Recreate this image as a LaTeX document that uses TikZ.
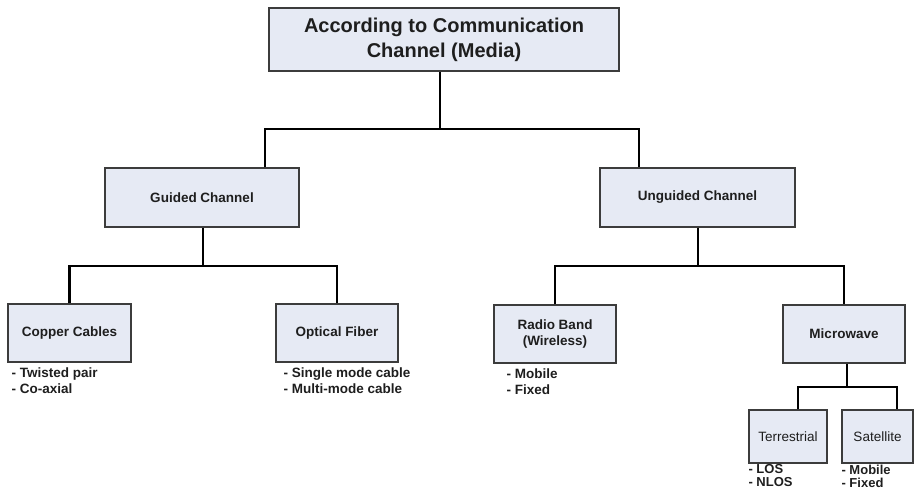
\documentclass[tikz,border=0pt]{standalone}
\usepackage{fontspec}
\setmainfont{Liberation Sans}
\definecolor{boxfill}{HTML}{E6EAF4}
\definecolor{boxline}{HTML}{3C3C3C}
\definecolor{ink}{HTML}{1E1E1E}
\begin{document}
\begin{tikzpicture}[x=1pt,y=-1pt,
  box/.style={draw=boxline,fill=boxfill,line width=1.3pt,inner sep=0pt,
    align=center,text=ink,font=\fontsize{13.5}{16}\selectfont\bfseries},
  plainbox/.style={box,font=\fontsize{13.5}{16}\selectfont},
  list/.style={anchor=north west,inner sep=0pt,align=left,text=ink,
    font=\fontsize{13.5}{16}\selectfont\bfseries},
  tightlist/.style={list,font=\fontsize{13}{13}\selectfont\bfseries},
  link/.style={draw=black,line width=2.2pt}]
\useasboundingbox (0,0) rectangle (915,490);

% boxes
\node[box,line width=1.8pt,minimum width=350pt,minimum height=63pt,
  font=\fontsize{20}{25}\selectfont\bfseries] (top) at (444,39.5)
  {According to Communication\\Channel (Media)};
\node[box,minimum width=194pt,minimum height=59pt] (guided) at (202,197.5) {Guided Channel};
\node[box,minimum width=195pt,minimum height=59pt] (unguided) at (697.5,197.5) {Unguided Channel};
\node[box,minimum width=123pt,minimum height=58pt] (copper) at (69.5,333) {Copper Cables};
\node[box,minimum width=122pt,minimum height=58pt] (optical) at (337,333) {Optical Fiber};
\node[box,minimum width=122pt,minimum height=58pt] (radio) at (555,334) {Radio Band\\(Wireless)};
\node[box,minimum width=122pt,minimum height=58pt] (micro) at (844,334) {Microwave};
\node[plainbox,minimum width=78pt,minimum height=53pt] (terr) at (788,436.5) {Terrestrial};
\node[plainbox,minimum width=71pt,minimum height=53pt] (sat) at (877.5,436.5) {Satellite};

% sub-lists under the boxes
\node[list] (copperlist) at ([xshift=4pt,yshift=-5pt]copper.south west) {- Twisted pair\\- Co-axial};
\node[list] (opticallist) at ([xshift=8pt,yshift=-5pt]optical.south west) {- Single mode cable\\- Multi-mode cable};
\node[list] (radiolist) at ([xshift=13pt,yshift=-5pt]radio.south west) {- Mobile\\- Fixed};
\node[tightlist] (terrlist) at ([yshift=-1pt]terr.south west) {- LOS\\- NLOS};
\node[tightlist] (satlist) at ([yshift=-1pt]sat.south west) {- Mobile\\- Fixed};

% junction rails
\coordinate (r0) at (440,129);
\coordinate (r1) at (203,266);
\coordinate (r2) at (698,266);
\coordinate (r3) at (847,387);

% connectors
\draw[link] (top.south -| r0) -- (r0);
\draw[link] ([xshift=63pt]guided.north) -- ([xshift=63pt]guided.north |- r0)
  -- ([xshift=-58.5pt]unguided.north |- r0) -- ([xshift=-58.5pt]unguided.north);

\draw[link] (guided.south -| r1) -- (r1);
\draw[link] (copper.north) -- (copper.north |- r1) -- (optical.north |- r1) -- (optical.north);

\draw[link] (unguided.south -| r2) -- (r2);
\draw[link] (radio.north) -- (radio.north |- r2) -- (micro.north |- r2) -- (micro.north);

\draw[link] (micro.south -| r3) -- (r3);
\draw[link] ([xshift=10pt]terr.north) -- ([xshift=10pt]terr.north |- r3)
  -- ([xshift=19.5pt]sat.north |- r3) -- ([xshift=19.5pt]sat.north);
\end{tikzpicture}
\end{document}
